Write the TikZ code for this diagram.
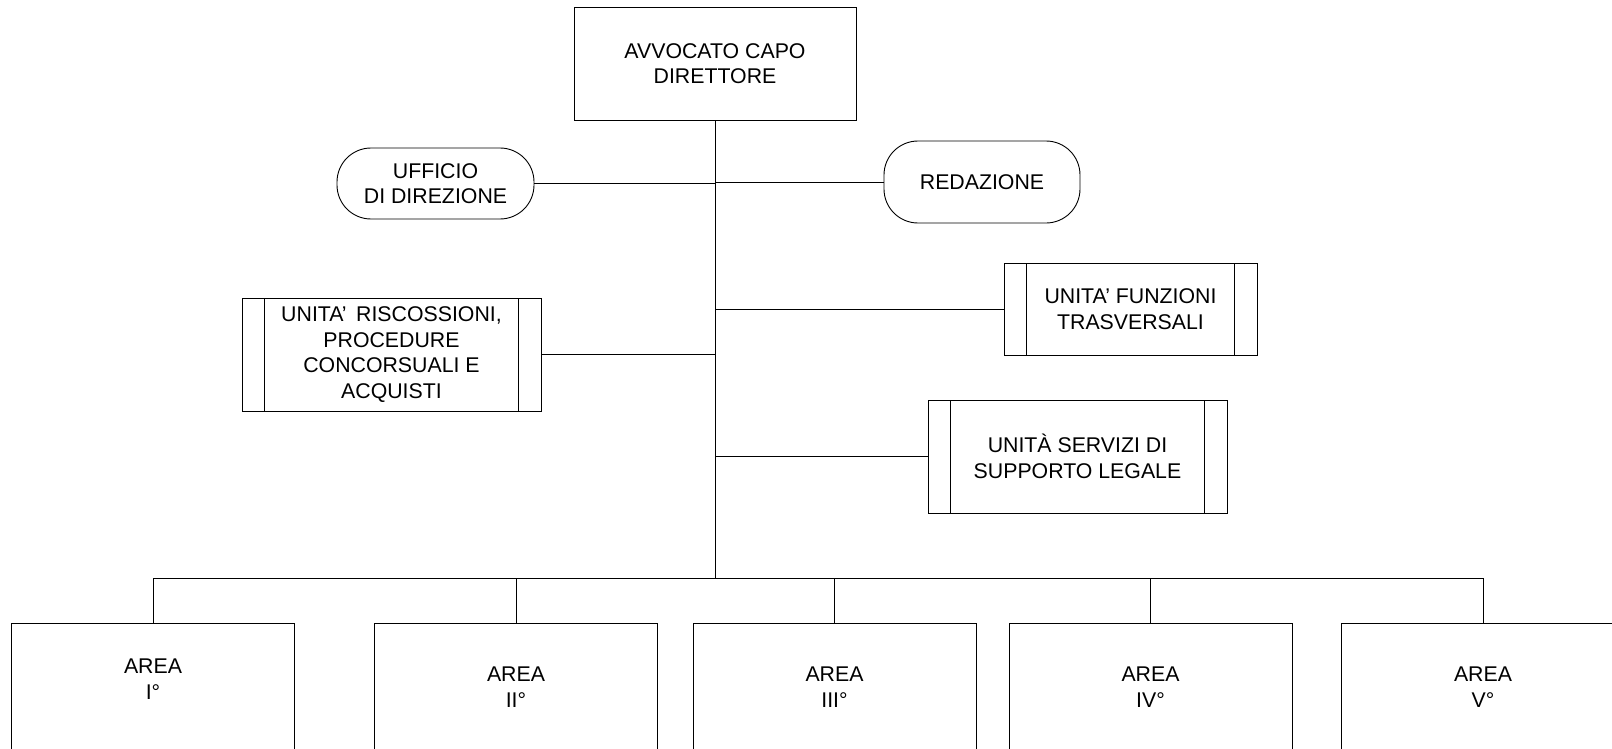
\documentclass[tikz,border=0pt]{standalone}
\usepackage{fontspec}
\setmainfont{Liberation Sans}
\usetikzlibrary{calc}
\begin{document}
\begin{tikzpicture}[x=1pt,y=-1pt,line width=0.9pt,
  every node/.style={font=\fontsize{21.3}{25.6}\selectfont,align=center,inner sep=0pt},
  rectbox/.style={draw},
  termbox/.style={draw,rounded corners=34pt},
  procbox/.style={draw,path picture={
    \draw[line width=0.9pt] ([xshift=22.5pt]path picture bounding box.north west) -- ([xshift=22.5pt]path picture bounding box.south west)
      ([xshift=-22.5pt]path picture bounding box.north east) -- ([xshift=-22.5pt]path picture bounding box.south east);}},
  areabox/.style={draw,anchor=north,minimum width=283pt,minimum height=200pt},
  areatxt/.style={}]
\path[use as bounding box,clip] (0,0) rectangle (1612,749);

\node[rectbox,minimum width=282pt,minimum height=113pt] (top) at (715,63.5) {AVVOCATO CAPO\\DIRETTORE};
\node[termbox,minimum width=197pt,minimum height=71pt] (uff) at (435.5,183.5) {UFFICIO\\DI DIREZIONE};
\node[termbox,minimum width=196pt,minimum height=82pt] (red) at (982,182) {REDAZIONE};
\node[procbox,minimum width=299pt,minimum height=113pt] (risc) at (391.5,354.5) {UNITA’ \,RISCOSSIONI,\\PROCEDURE\\CONCORSUALI E\\ACQUISTI};
\node[procbox,minimum width=253pt,minimum height=92pt] (funz) at (1130.5,309) {UNITA’ FUNZIONI\\TRASVERSALI};
\node[procbox,minimum width=299pt,minimum height=113pt] (serv) at (1077.5,456.5) {UNITÀ SERVIZI DI\\SUPPORTO LEGALE};

\coordinate (busC) at (715,578);

\node[areabox] (a1) at (153,623) {};
\node[areabox] (a2) at (516,623) {};
\node[areabox] (a3) at (834.5,623) {};
\node[areabox] (a4) at (1150.5,623) {};
\node[areabox] (a5) at (1483,623) {};
\node[areatxt] (t1) at (153,679) {AREA\\I°};
\node[areatxt] (t2) at (516,687) {AREA\\II°};
\node[areatxt] (t3) at (834.5,687) {AREA\\III°};
\node[areatxt] (t4) at (1150.5,687) {AREA\\IV°};
\node[areatxt] (t5) at (1483,687) {AREA\\V°};

\draw (top.south) -- (busC);
\draw (uff.east) -- (uff.east -| top.south);
\draw (red.west) -- (red.west -| top.south);
\draw (risc.east) -- (risc.east -| top.south);
\draw (funz.west) -- (funz.west -| top.south);
\draw (serv.west) -- (serv.west -| top.south);
\draw (a1.north |- busC) -- (a5.north |- busC);
\foreach \n in {a1,a2,a3,a4,a5} \draw (\n.north) -- (\n.north |- busC);
\end{tikzpicture}
\end{document}
